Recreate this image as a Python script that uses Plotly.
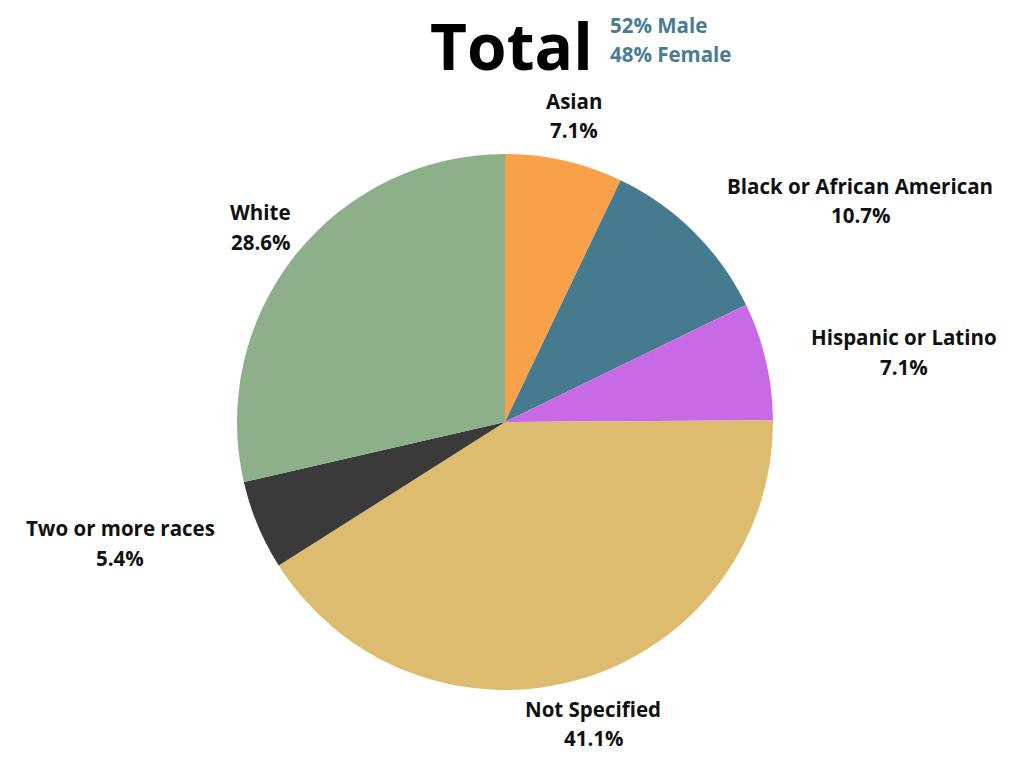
import plotly.graph_objects as go

# ---- data ----
categories = ["Asian", "Black or African American", "Hispanic or Latino",
              "Not Specified", "Two or more races", "White"]
shares = [7.1, 10.7, 7.1, 41.1, 5.4, 28.6]
colors = ["#F9A04B", "#467A8E", "#C86AE6", "#DEBC6F", "#3A3A3A", "#8DB08A"]
title_text = "Total"
gender_lines = ["52% Male", "48% Female"]

# ---- layout constants ----
W, H = 1024, 768
CX, CY, R = 505, 422, 268
# label block centres in pixels (x, y)
label_centres = [(574, 115.5), (860, 200.5), (904, 352), (593, 723.5), (120, 543), (260, 227)]
LINE_GAP = 29.5

FONT = "Open Sans"

fig = go.Figure()
fig.add_trace(go.Pie(
    labels=categories,
    values=shares,
    marker=dict(colors=colors, line=dict(width=0)),
    sort=False,
    direction="clockwise",
    rotation=0,
    textinfo="none",
    hoverinfo="label+percent",
    showlegend=False,
    domain=dict(x=[(CX - R) / W, (CX + R) / W], y=[1 - (CY + R) / H, 1 - (CY - R) / H]),
))

def px(x, y):
    return x / W, 1 - y / H

def note(x, y, text, size, color, xanchor="center"):
    ax, ay = px(x, y)
    return dict(x=ax, y=ay, xref="paper", yref="paper", text=text,
                showarrow=False, xanchor=xanchor, yanchor="middle",
                font=dict(family=FONT, size=size, color=color))

annotations = []
for cat, val, (lx, ly) in zip(categories, shares, label_centres):
    annotations.append(note(lx, ly - LINE_GAP / 2, f"<b>{cat}</b>", 20.5, "#111111"))
    annotations.append(note(lx, ly + LINE_GAP / 2, f"<b>{val:.1f}%</b>", 20.5, "#111111"))

title = note(511, 0, f"<b>{title_text}</b>", 64, "#000000")
title["yanchor"] = "top"
title["y"] = 1.0
annotations.append(title)
for i, t in enumerate(gender_lines):
    annotations.append(note(608, 25 + i * 29, f"<b>{t}</b>", 20.5, "#4A7D8F", xanchor="left"))

fig.update_layout(
    width=W, height=H,
    margin=dict(l=0, r=0, t=0, b=0),
    paper_bgcolor="white", plot_bgcolor="white",
    annotations=annotations,
)

fig.write_html("out.html", config={"displayModeBar": False},
               post_script="document.body.style.margin='0';")
